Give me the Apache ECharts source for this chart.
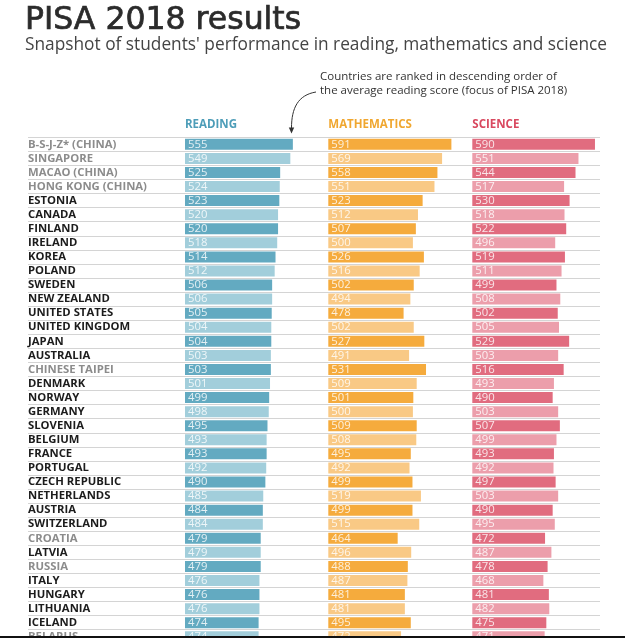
<!DOCTYPE html>
<html>
<head>
<meta charset="utf-8">
<script src="https://cdn.jsdelivr.net/npm/echarts@6/dist/echarts.min.js"></script>
<style>
html,body{margin:0;padding:0;background:#fff;overflow:hidden;}
#chart{width:625px;height:660px;}
</style>
</head>
<body>
<div id="chart"></div>
<script>
var countries = ["B-S-J-Z* (CHINA)","SINGAPORE","MACAO (CHINA)","HONG KONG (CHINA)","ESTONIA","CANADA","FINLAND","IRELAND","KOREA","POLAND","SWEDEN","NEW ZEALAND","UNITED STATES","UNITED KINGDOM","JAPAN","AUSTRALIA","CHINESE TAIPEI","DENMARK","NORWAY","GERMANY","SLOVENIA","BELGIUM","FRANCE","PORTUGAL","CZECH REPUBLIC","NETHERLANDS","AUSTRIA","SWITZERLAND","CROATIA","LATVIA","RUSSIA","ITALY","HUNGARY","LITHUANIA","ICELAND","BELARUS"];
var nonOECD = ["B-S-J-Z* (CHINA)","SINGAPORE","MACAO (CHINA)","HONG KONG (CHINA)","CHINESE TAIPEI","CROATIA","RUSSIA","BELARUS"];
var reading = [555,549,525,524,523,520,520,518,514,512,506,506,505,504,504,503,503,501,499,498,495,493,493,492,490,485,484,484,479,479,479,476,476,476,474,474];
var mathematics = [591,569,558,551,523,512,507,500,526,516,502,494,478,502,527,491,531,509,501,500,509,508,495,492,499,519,499,515,464,496,488,487,481,481,495,472];
var science = [590,551,544,517,530,518,522,496,519,511,499,508,502,505,529,503,516,493,490,503,507,499,493,492,497,503,490,495,472,487,478,468,481,482,475,471];
var subjects = ["READING","MATHEMATICS","SCIENCE"];

var chart = echarts.init(document.getElementById('chart'), null, {renderer:'canvas'});
var TOP = 137.3, H = 506.5, PW = 126.9;
var lefts = [185, 328.3, 472.3];
var colors = [
  {dark:'#63aac1', light:'#a2cedb', head:'#4d9db8'},
  {dark:'#f5ab3d', light:'#f9c985', head:'#f0a730'},
  {dark:'#e16c7f', light:'#ec9eab', head:'#d9485f'}
];
var dataSets = [reading, mathematics, science];
var FONT = '"Open Sans", sans-serif';

var grids = [{left:28, top:TOP, width:572, height:H}];
var xAxes = [{gridIndex:0, type:'value', min:0, max:1, show:false}];
var yAxes = [{
  gridIndex:0, type:'category', data:countries, inverse:true,
  axisLine:{show:false}, axisTick:{show:false},
  splitLine:{show:true, interval:0, lineStyle:{color:'#d4d4d4', width:1}},
  axisLabel:{inside:true, interval:0, margin:0, align:'left', fontFamily:FONT, fontWeight:'bold', fontSize:11.3,
    color:function(v){ return nonOECD.indexOf(v) >= 0 ? '#8c8c8c' : '#1c1c1c'; }}
}];
var series = [];
for (var i = 0; i < 3; i++) {
  grids.push({left:lefts[i], top:TOP, width:PW, height:H});
  xAxes.push({gridIndex:i+1, type:'value', min:300, max:600, show:false});
  yAxes.push({gridIndex:i+1, type:'category', data:countries, inverse:true, show:false});
  (function(c){
    series.push({
      type:'bar', xAxisIndex:i+1, yAxisIndex:i+1, data:dataSets[i], barWidth:11,
      itemStyle:{color:function(p){ return p.dataIndex % 2 ? c.light : c.dark; }},
      label:{show:true, position:'insideLeft', distance:3, color:'rgba(255,255,255,0.82)',
        fontFamily:FONT, fontSize:11.3},
      silent:true, animation:false
    });
  })(colors[i]);
}

var graphic = [
  {type:'text', x:25, y:21, style:{text:'PISA 2018 results', font:'31.5px "DejaVu Sans", sans-serif', fill:'#2b2b2b', stroke:'#2b2b2b', lineWidth:0.7, verticalAlign:'middle'}},
  {type:'text', x:25, y:45.5, style:{text:"Snapshot of students' performance in reading, mathematics and science", font:'17.3px "Open Sans", sans-serif', fill:'#444', verticalAlign:'middle'}},
  {type:'text', x:320, y:77, style:{text:'Countries are ranked in descending order of', font:'11.5px "Open Sans", sans-serif', fill:'#333', verticalAlign:'middle'}},
  {type:'text', x:320, y:91, style:{text:'the average reading score (focus of PISA 2018)', font:'11.5px "Open Sans", sans-serif', fill:'#333', verticalAlign:'middle'}},
  {type:'bezierCurve', shape:{x1:316, y1:92, x2:291.5, y2:128, cpx1:298, cpy1:95, cpx2:291.5, cpy2:108}, style:{stroke:'#333', lineWidth:1, fill:null}},
  {type:'polygon', shape:{points:[[288.8,127.5],[294.2,127.5],[291.5,133.5]]}, style:{fill:'#333'}},
  {type:'rect', shape:{x:0, y:636, width:625, height:24}, style:{fill:'#111'}, z:100}
];
for (var j = 0; j < 3; j++) {
  graphic.push({type:'text', x:lefts[j], y:124.5, style:{text:subjects[j], font:'bold 11.5px "Open Sans", sans-serif', fill:colors[j].head, verticalAlign:'middle'}});
}

chart.setOption({
  animation:false,
  backgroundColor:'#fff',
  grid:grids, xAxis:xAxes, yAxis:yAxes, series:series, graphic:graphic
});
</script>
</body>
</html>
